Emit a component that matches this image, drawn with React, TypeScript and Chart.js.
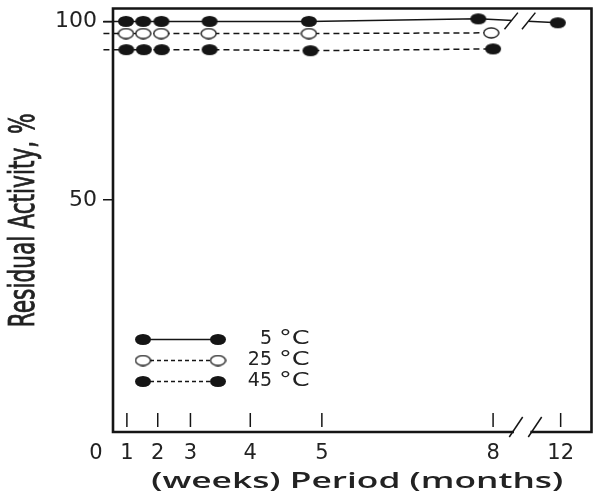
import React, { useEffect, useRef } from 'react';
import { Chart, registerables } from 'chart.js';

Chart.register(...registerables);

// ---- data (x in "position" units of the broken time axis) ----
const xTickValues = [0, 1.0, 2.0, 3.06, 5.0, 7.32, 12.87, 15.06];
const xTickLabels = ['0', '1', '2', '3', '4', '5', '8', '12'];
const yTickValues = [50, 100];
const xMin = 0.55;
const xMax = 16.06;
const yMin = -14.8;
const yMax = 103.6;

const series5x = [0.24, 0.97, 1.53, 2.12, 3.68, 6.9, 12.39, 14.97];
const series5y = [100, 100, 100, 100, 100, 100, 100.7, 99.6];
const series25x = [0.24, 0.97, 1.53, 2.11, 3.65, 6.9, 12.81];
const series25y = [96.6, 96.6, 96.6, 96.6, 96.6, 96.6, 96.8];
const series45x = [0.24, 0.98, 1.55, 2.13, 3.68, 6.95, 12.87];
const series45y = [92.1, 92.1, 92.1, 92.1, 92.1, 91.8, 92.3];

const legendNumbers = ['5', '25', '45'];
const legendUnit = '°C';
const xTitle = '(weeks) Period (months)';
const yTitle = 'Residual Activity, %';
const breakTopValue = 13.74;
const breakBottomValue = 13.92;

const INK = '#151515';

function makeDot(filled: boolean, w: number, h: number) {
  const c = document.createElement('canvas');
  c.width = w;
  c.height = h;
  const g = c.getContext('2d')!;
  g.beginPath();
  g.ellipse(w / 2, h / 2, w / 2 - 1, h / 2 - 1, 0, 0, Math.PI * 2);
  if (filled) {
    g.fillStyle = INK;
    g.fill();
  } else {
    g.fillStyle = '#fff';
    g.fill();
    g.lineWidth = 1.3;
    g.strokeStyle = INK;
    g.stroke();
  }
  return c;
}

function interp(xs: number[], ys: number[], v: number) {
  for (let i = 0; i < xs.length - 1; i++) {
    if (v >= xs[i] && v <= xs[i + 1]) {
      const t = (v - xs[i]) / (xs[i + 1] - xs[i]);
      return ys[i] + t * (ys[i + 1] - ys[i]);
    }
  }
  return ys[ys.length - 1];
}

export default function App() {
  const ref = useRef<HTMLCanvasElement | null>(null);

  useEffect(() => {
    const canvas = ref.current!;
    const dotFilled = makeDot(true, 18, 13);
    const dotOpen = makeDot(false, 17, 12);
    const dashStyle = [6, 4];

    const toPts = (xs: number[], ys: number[]) => xs.map((x, i) => ({ x, y: ys[i] }));
    const radii = (xs: number[]) => xs.map((_, i) => (i === 0 ? 0 : 7));

    const decor = {
      id: 'decor',
      afterDatasetsDraw(chart: any) {
        const { ctx, chartArea: a, scales } = chart;
        const x = scales.x;
        const y = scales.y;
        ctx.save();
        ctx.strokeStyle = INK;
        ctx.fillStyle = INK;

        // break on the 5 °C line
        const cx = x.getPixelForValue(breakTopValue);
        const ly = y.getPixelForValue(interp(series5x, series5y, breakTopValue));
        ctx.fillStyle = '#fff';
        ctx.fillRect(cx - 8.75, ly - 2.5, 17.5, 5);
        ctx.lineWidth = 1.5;
        ctx.setLineDash([]);
        [cx - 8.75, cx + 8.75].forEach((sc) => {
          ctx.beginPath();
          ctx.moveTo(sc - 6.7, ly + 8.3);
          ctx.lineTo(sc + 6.7, ly - 8.3);
          ctx.stroke();
        });

        // tick marks inside the box
        ctx.lineWidth = 1.5;
        xTickValues.forEach((v) => {
          if (v < xMin || v > xMax) return;
          const px = x.getPixelForValue(v);
          ctx.beginPath();
          ctx.moveTo(px, a.bottom - 19);
          ctx.lineTo(px, a.bottom - 5);
          ctx.stroke();
        });

        // box with a break in the bottom edge
        const bx = x.getPixelForValue(breakBottomValue);
        const bcy = a.bottom - 5;
        const s1 = bx - 9.5;
        const s2 = bx + 9.5;
        const gap1 = s1 - (a.bottom - bcy) * (6.7 / 10);
        const gap2 = s2 - (a.bottom - bcy) * (6.7 / 10);
        ctx.lineWidth = 2.6;
        ctx.lineCap = 'square';
        ctx.beginPath();
        ctx.moveTo(gap1, a.bottom);
        ctx.lineTo(a.left, a.bottom);
        ctx.lineTo(a.left, a.top);
        ctx.lineTo(a.right, a.top);
        ctx.lineTo(a.right, a.bottom);
        ctx.lineTo(gap2, a.bottom);
        ctx.stroke();
        ctx.lineCap = 'butt';
        ctx.lineWidth = 1.5;
        [s1, s2].forEach((sc) => {
          ctx.beginPath();
          ctx.moveTo(sc - 6.7, bcy + 10);
          ctx.lineTo(sc + 6.7, bcy - 10);
          ctx.stroke();
        });

        // legend inside plot
        const rows = [331, 352, 373];
        const dashes = [[], [4, 3], [4, 3]];
        const dots = [dotFilled, dotOpen, dotFilled];
        const lx1 = a.left + 30;
        const lx2 = a.left + 105;
        rows.forEach((r, i) => {
          const yy = a.top + r;
          ctx.setLineDash(dashes[i]);
          ctx.lineWidth = 1.4;
          ctx.beginPath();
          ctx.moveTo(lx1, yy);
          ctx.lineTo(lx2, yy);
          ctx.stroke();
          ctx.setLineDash([]);
          const d = dots[i];
          ctx.drawImage(d, lx1 - d.width / 2, yy - d.height / 2);
          ctx.drawImage(d, lx2 - d.width / 2, yy - d.height / 2);
          ctx.fillStyle = '#222';
          ctx.font = '19px "DejaVu Sans", sans-serif';
          ctx.textBaseline = 'middle';
          ctx.textAlign = 'right';
          ctx.fillText(legendNumbers[i], a.left + 159, yy);
          ctx.save();
          ctx.translate(a.left + 166, yy);
          ctx.scale(1.35, 1);
          ctx.textAlign = 'left';
          ctx.fillText(legendUnit, 0, 0);
          ctx.restore();
        });

        // x title
        ctx.fillStyle = '#222';
        ctx.font = '600 22px "Open Sans", "DejaVu Sans", sans-serif';
        ctx.textBaseline = 'alphabetic';
        ctx.textAlign = 'center';
        const wx = ctx.measureText(xTitle).width;
        ctx.save();
        ctx.translate((a.left + a.right) / 2 + 5, 488);
        ctx.scale(412 / wx, 1);
        ctx.fillText(xTitle, 0, 0);
        ctx.restore();

        // y title
        ctx.font = '35px "Liberation Sans Narrow", "DejaVu Sans Condensed", sans-serif';
        const wy = ctx.measureText(yTitle).width;
        ctx.save();
        ctx.translate(34, (a.top + a.bottom) / 2);
        ctx.rotate(-Math.PI / 2);
        ctx.scale(214 / wy, 1);
        ctx.strokeStyle = '#222';
        ctx.lineWidth = 0.8;
        ctx.fillText(yTitle, 0, 0);
        ctx.strokeText(yTitle, 0, 0);
        ctx.restore();

        ctx.restore();
      },
    };

    const chart = new Chart(canvas, {
      type: 'line',
      data: {
        datasets: [
          {
            label: '5 °C',
            data: toPts(series5x, series5y),
            borderColor: INK,
            borderWidth: 1.5,
            pointStyle: dotFilled as any,
            pointRadius: radii(series5x),
            clip: false as any,
            tension: 0,
          },
          {
            label: '25 °C',
            data: toPts(series25x, series25y),
            borderColor: INK,
            borderWidth: 1.5,
            borderDash: dashStyle,
            pointStyle: dotOpen as any,
            pointRadius: radii(series25x),
            clip: false as any,
            tension: 0,
          },
          {
            label: '45 °C',
            data: toPts(series45x, series45y),
            borderColor: INK,
            borderWidth: 1.5,
            borderDash: dashStyle,
            pointStyle: dotFilled as any,
            pointRadius: radii(series45x),
            clip: false as any,
            tension: 0,
          },
        ],
      },
      options: {
        responsive: false,
        animation: false,
        events: [],
        layout: { padding: { left: 0, right: 6, top: 8, bottom: 0 } },
        plugins: { legend: { display: false }, tooltip: { enabled: false } },
        scales: {
          x: {
            type: 'linear',
            min: xMin,
            max: xMax,
            afterBuildTicks: (s: any) => {
              s.ticks = xTickValues.map((v) => ({ value: v }));
            },
            afterFit: (s: any) => {
              s.height = 68;
              s.paddingLeft = 0;
              s.paddingRight = 0;
              s.paddingTop = 0;
              s.paddingBottom = 0;
            },
            grid: { display: false, drawTicks: false },
            border: { display: false },
            ticks: {
              autoSkip: false,
              maxRotation: 0,
              minRotation: 0,
              padding: 9,
              color: '#222',
              font: { family: '"DejaVu Sans", sans-serif', size: 21 },
              callback: (_v: any, i: number) => xTickLabels[i],
            },
          },
          y: {
            type: 'linear',
            min: yMin,
            max: yMax,
            afterBuildTicks: (s: any) => {
              s.ticks = yTickValues.map((v) => ({ value: v }));
            },
            afterFit: (s: any) => {
              s.width = 113;
              s.paddingLeft = 0;
              s.paddingRight = 0;
              s.paddingTop = 0;
              s.paddingBottom = 0;
            },
            grid: {
              display: true,
              drawOnChartArea: false,
              drawTicks: true,
              tickLength: 10,
              color: INK,
              lineWidth: 1.5,
            },
            border: { display: false },
            ticks: {
              padding: 6,
              color: '#222',
              font: { family: '"DejaVu Sans", sans-serif', size: 22 },
            },
          },
        },
      },
      plugins: [decor],
    });

    return () => chart.destroy();
  }, []);

  return (
    <div style={{ position: 'absolute', left: 0, top: 0, width: 600, height: 500, background: '#fff' }}>
      <canvas ref={ref} width={600} height={500} style={{ display: 'block' }} />
    </div>
  );
}
